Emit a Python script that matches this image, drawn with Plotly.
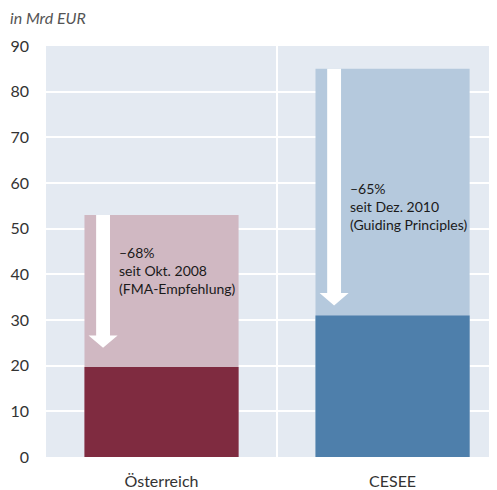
import plotly.graph_objects as go

categories = ["Österreich", "CESEE"]
start_values = [53.0, 85.0]
current_values = [19.7, 31.0]
change_labels = ["–68%<br>seit Okt. 2008<br>(FMA-Empfehlung)",
                 "–65%<br>seit Dez. 2010<br>(Guiding Principles)"]
light_colors = ["#d0b8c2", "#b5c9dd"]
dark_colors = ["#7f2b40", "#4e7fab"]

xpos = list(range(len(categories)))
FONT = "Lato, 'Open Sans', sans-serif"

fig = go.Figure()
fig.add_trace(go.Bar(x=xpos, y=start_values, width=0.667,
                     marker=dict(color=light_colors, line=dict(width=0)),
                     hoverinfo="skip"))
fig.add_trace(go.Bar(x=xpos, y=current_values, width=0.667,
                     marker=dict(color=dark_colors, line=dict(width=0)),
                     hoverinfo="skip"))

# arrows (white) and labels
shaft_hw = 0.030
head_hw = 0.063
head_len = 2.7
x_off = -0.253
for i, (s, c) in enumerate(zip(start_values, current_values)):
    xc = xpos[i] + x_off
    tip = c + (4.2 if i == 0 else 2.2)
    hb = tip + head_len
    path = (f"M {xc-shaft_hw},{s} L {xc+shaft_hw},{s} L {xc+shaft_hw},{hb} "
            f"L {xc+head_hw},{hb} L {xc},{tip} L {xc-head_hw},{hb} "
            f"L {xc-shaft_hw},{hb} Z")
    fig.add_shape(type="path", path=path, fillcolor="white",
                  line=dict(width=0), xref="x", yref="y", layer="above")
    fig.add_annotation(x=xc + 0.06, y=s - 6.0 if i == 0 else s - 23.9,
                       xref="x", yref="y", text=change_labels[i],
                       showarrow=False, xanchor="left", yanchor="top",
                       align="left",
                       font=dict(family=FONT, size=14, color="#1a1a1a"))

fig.add_annotation(x=0, y=1, xref="paper", yref="paper", xshift=-38, yshift=40,
                   text="<i>in Mrd EUR</i>", showarrow=False,
                   xanchor="left", yanchor="top",
                   font=dict(family=FONT, size=16, color="#555555"))

# page body has an 8px margin: shrink the figure and margins to compensate
fig.update_layout(
    width=489, height=482,
    margin=dict(l=38, r=0, t=38, b=33),
    barmode="overlay",
    showlegend=False,
    paper_bgcolor="white",
    plot_bgcolor="#e4eaf2",
    font=dict(family=FONT, size=16, color="#333333"),
    xaxis=dict(range=[-0.5, 1.452], tickvals=xpos, ticktext=categories,
               showgrid=False, zeroline=False, ticks="",
               ticklabelstandoff=13,
               minor=dict(tickvals=[0.5], showgrid=True,
                          gridcolor="white", gridwidth=1.5)),
    yaxis=dict(range=[0, 90], dtick=10, showgrid=True,
               gridcolor="white", gridwidth=1.5, zeroline=False,
               ticks="", ticklabelstandoff=16),
)

fig.write_html("out.html")
